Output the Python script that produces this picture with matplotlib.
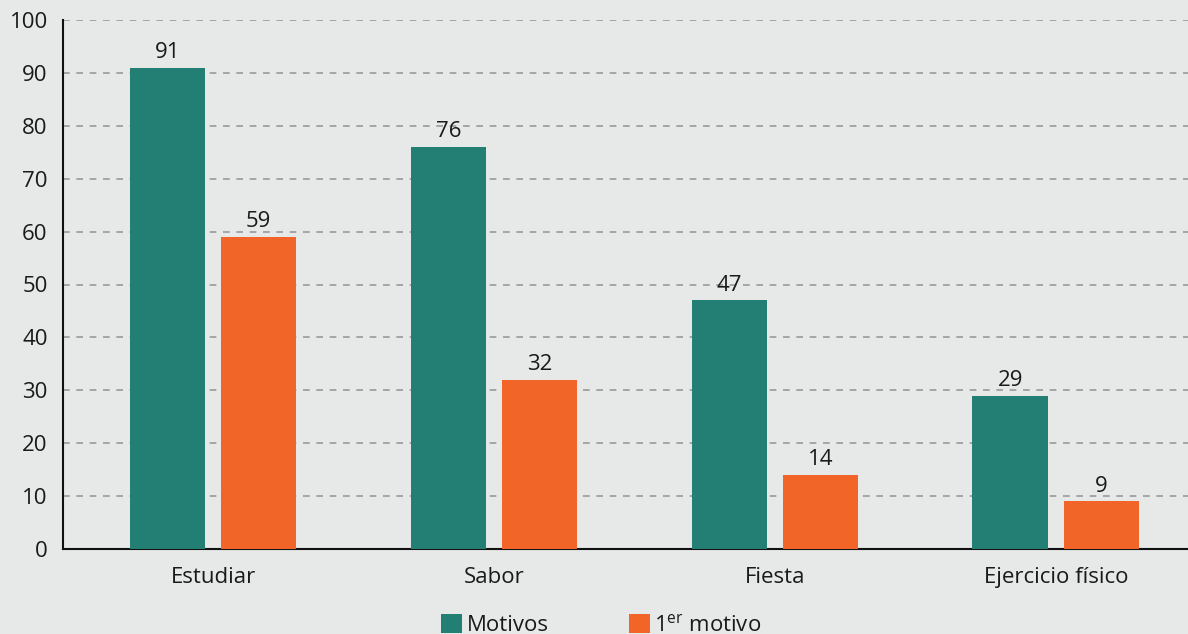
import matplotlib
matplotlib.use("Agg")
import matplotlib.pyplot as plt
import numpy as np
from matplotlib.patches import Patch

categories = ["Estudiar", "Sabor", "Fiesta", "Ejercicio físico"]
motivos = [91, 76, 47, 29]
primer_motivo = [59, 32, 14, 9]
series_labels = ["Motivos", "1$^{\\mathregular{er}}$ motivo"]
yticks = list(range(0, 101, 10))

FONT = "Open Sans"
plt.rcParams["font.family"] = [FONT, "DejaVu Sans"]
plt.rcParams["mathtext.fontset"] = "custom"
plt.rcParams["mathtext.rm"] = FONT
plt.rcParams["mathtext.default"] = "regular"

bg = "#e6e9e7"
teal = "#237f74"
orange = "#f26529"
txt = "#1a1a1a"
FS = 16

fig = plt.figure(figsize=(11.88, 6.34), dpi=100, facecolor=bg)
ax = fig.add_axes([63/1188, 85/634, 1 - 63/1188, (549-20)/634])
ax.set_facecolor(bg)

x = np.arange(len(categories))
w = 0.27
off = 0.162
b1 = ax.bar(x - off, motivos, w, color=teal, zorder=3)
b2 = ax.bar(x + off, primer_motivo, w, color=orange, zorder=3)
for bars, vals in ((b1, motivos), (b2, primer_motivo)):
    for r, v in zip(bars, vals):
        ax.text(r.get_x() + r.get_width()/2, v + 0.9, str(v), ha="center", va="bottom",
                fontsize=FS, color=txt, zorder=4)

ax.set_xlim(-0.534, 3.47)
ax.set_ylim(0, 100)
ax.set_yticks(yticks)
ax.set_yticklabels([str(t) for t in yticks], fontsize=FS, color=txt)
ax.set_xticks(x)
ax.set_xticklabels(categories, fontsize=FS, color=txt)
ax.tick_params(axis="both", length=0)
ax.tick_params(axis="y", pad=11)
ax.tick_params(axis="x", pad=13)
ax.yaxis.grid(True, linestyle=(0, (4, 4)), color="#999999", linewidth=1.2, zorder=0)
ax.set_axisbelow(True)
for s in ("top", "right"):
    ax.spines[s].set_visible(False)
for s in ("left", "bottom"):
    ax.spines[s].set_color("#111111")
    ax.spines[s].set_linewidth(1.5)

handles = [Patch(facecolor=teal, label=series_labels[0]),
           Patch(facecolor=orange, label=series_labels[1])]
fig.legend(handles=handles, loc="lower center", bbox_to_anchor=(0.506, -0.035), ncol=2,
           frameon=False, fontsize=FS, handlelength=0.95, handleheight=0.95,
           handletextpad=0.2, columnspacing=3.6, labelcolor=txt)

fig.savefig("out.png", dpi=100, facecolor=bg)
